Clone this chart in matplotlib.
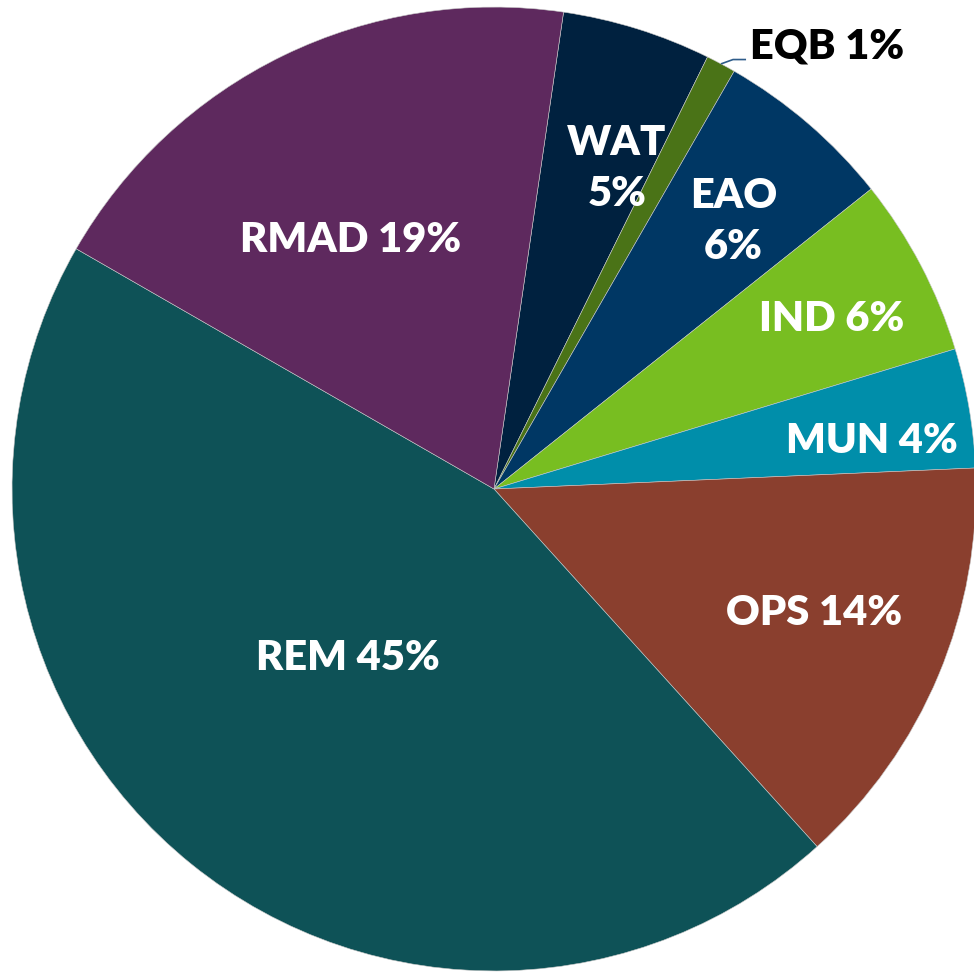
import numpy as np
import matplotlib.pyplot as plt

labels = ["WAT", "EQB", "EAO", "IND", "MUN", "OPS", "REM", "RMAD"]
shares = [5, 1, 6, 6, 4, 14, 45, 19]
colors = ["#00213F", "#4A7317", "#003764", "#78BE21", "#008EAA",
          "#8A3F2E", "#0E5257", "#5E295E"]
# label placement: fraction of radius and angle nudge from wedge middle (deg)
label_r = [0.717, None, 0.749, 0.788, 0.791, 0.710, 0.459, 0.601]
label_nudge = [-3.5, 0, -0.9, -0.6, -2.0, 2.0, -2.4, 3.7]
two_line = ["WAT", "EAO"]

plt.rcParams['font.family'] = ['Lato', 'DejaVu Sans']

fig = plt.figure(figsize=(9.74, 9.72), dpi=100)
ax = fig.add_axes([0, 0, 1, 1])
wedges, _ = ax.pie(shares, colors=colors, startangle=81.7, counterclock=False,
                   wedgeprops=dict(edgecolor="#c8c8c8", linewidth=0.4))
ax.set_xlim(-1.025, 0.996)
ax.set_ylim(-1.002, 1.0145)
ax.set_aspect('equal')
ax.axis('off')

for w, lab, val, r, nd in zip(wedges, labels, shares, label_r, label_nudge):
    mid = np.deg2rad((w.theta1 + w.theta2) / 2 + nd)
    if r is None:
        # small slice: label outside with leader line
        x0, y0 = np.cos(mid), np.sin(mid)
        ax.plot([x0, x0 + 0.025, x0 + 0.052], [y0, y0 + 0.009, y0 + 0.009],
                color="#2E5C8A", lw=1.2, solid_capstyle='butt')
        ax.text(x0 + 0.06, y0 + 0.036, f"{lab} {val}%", color="black",
                fontsize=30, fontweight='heavy', ha='left', va='center')
        continue
    sep = "\n" if lab in two_line else " "
    ax.text(r * np.cos(mid), r * np.sin(mid) - 0.006, f"{lab}{sep}{val}%",
            color="white", fontsize=30, fontweight='heavy',
            ha='center', va='center', linespacing=1.42)

fig.savefig("out.png", dpi=100)
